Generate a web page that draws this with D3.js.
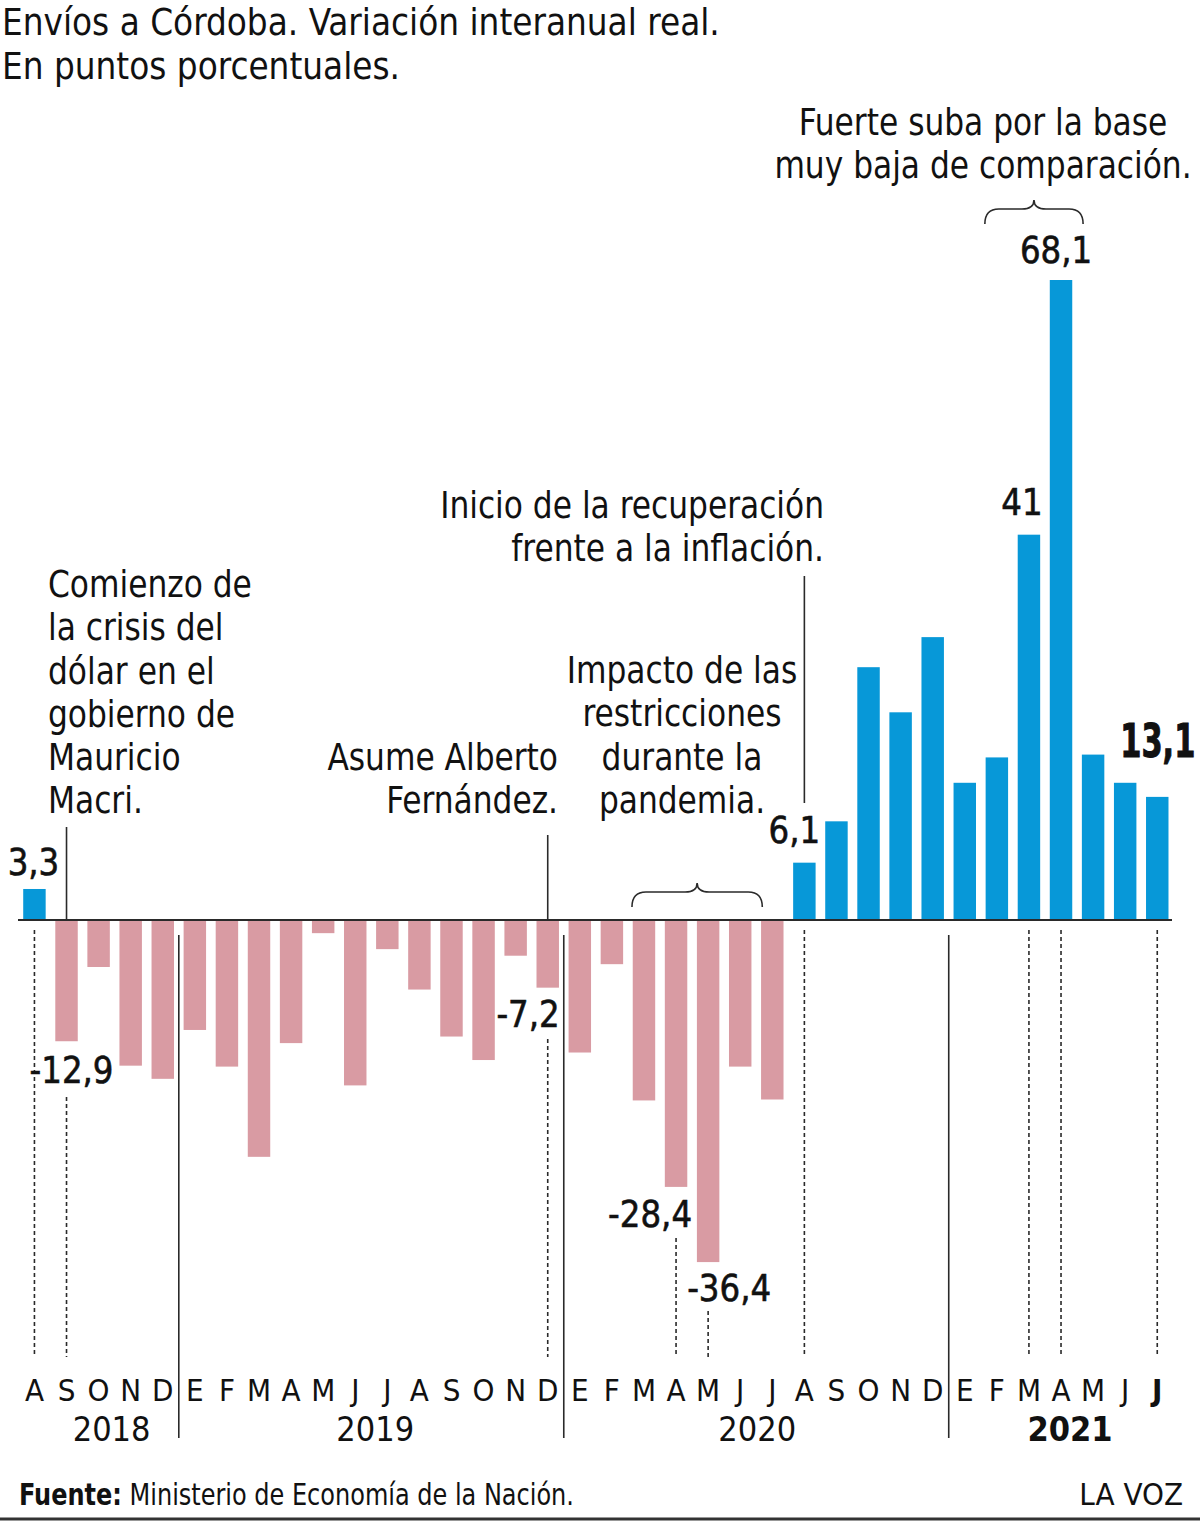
<!DOCTYPE html>
<html>
<head>
<meta charset="utf-8">
<script src="https://cdn.jsdelivr.net/npm/d3@7"></script>
<style>
  body { margin: 0; background: #fff; }
  svg text { font-family: "Liberation Sans Narrow", "DejaVu Sans Condensed", "Roboto", sans-serif; fill: #111; }
</style>
</head>
<body>
<div id="chart"></div>
<script>
// months from Aug 2018 to Jul 2021
const months = ["A","S","O","N","D",
  "E","F","M","A","M","J","J","A","S","O","N","D",
  "E","F","M","A","M","J","J","A","S","O","N","D",
  "E","F","M","A","M","J","J"];
const values = [3.3, -12.9, -5.0, -15.5, -16.9,
  -11.7, -15.6, -25.2, -13.1, -1.4, -17.6, -3.1, -7.4, -12.4, -14.9, -3.8, -7.2,
  -14.1, -4.7, -19.2, -28.4, -36.4, -15.6, -19.1, 6.1, 10.5, 26.9, 22.1, 30.1,
  14.6, 17.3, 41, 68.1, 17.6, 14.6, 13.1];
const years = ["2018", "2019", "2020", "2021"];
const yearStart = [0, 5, 17, 29];
const labeledBars = [0, 1, 16, 20, 21, 24, 31, 32, 35];

const title = ["Envíos a Córdoba. Variación interanual real.", "En puntos porcentuales."];
const notes = [
  { lines: ["Comienzo de", "la crisis del", "dólar en el", "gobierno de", "Mauricio", "Macri."] },
  { lines: ["Asume Alberto", "Fernández."] },
  { lines: ["Impacto de las", "restricciones", "durante la", "pandemia."] },
  { lines: ["Inicio de la recuperación", "frente a la inflación."] },
  { lines: ["Fuerte suba por la base", "muy baja de comparación."] }
];

const W = 1200, H = 1529;
const svg = d3.select("#chart").append("svg")
  .attr("width", W).attr("height", H);

const x = d3.scaleBand()
  .domain(d3.range(months.length))
  .range([18.4, 1173.3])
  .paddingInner(0.3)
  .paddingOuter(0.15);
const cx = i => x(i) + x.bandwidth() / 2;

const y = d3.scaleLinear().domain([0, 68.1]).range([920, 280]);

const blue = "#0798d8", pink = "#d99ba3", ink = "#111", lineCol = "#2a2a2a";
const fmt = v => String(v).replace(".", ",");
// narrow the glyphs a little, the original uses a condensed face
const squeeze = (px, py, s) => `translate(${px},${py}) scale(${s},1)`;

// title
svg.append("g").selectAll("text").data(title).join("text")
  .attr("transform", (d, i) => squeeze(2, 35 + i * 44, 0.96))
  .attr("font-size", 38).text(d => d);

// bars
svg.append("g").selectAll("rect").data(values).join("rect")
  .attr("x", (d, i) => x(i))
  .attr("width", x.bandwidth())
  .attr("y", d => Math.min(y(d), y(0)))
  .attr("height", d => Math.abs(y(d) - y(0)))
  .attr("fill", d => d >= 0 ? blue : pink);

// zero line
svg.append("line")
  .attr("x1", 18).attr("x2", 1172)
  .attr("y1", y(0)).attr("y2", y(0))
  .attr("stroke", lineCol).attr("stroke-width", 2);

// dotted guides under labelled bars
const dotTop = { 0: 930, 1: 1097, 16: 1039, 20: 1238, 21: 1311 };
svg.append("g").selectAll("line").data(labeledBars).join("line")
  .attr("x1", i => cx(i)).attr("x2", i => cx(i))
  .attr("y1", i => dotTop[i] || 930).attr("y2", 1357)
  .attr("stroke", lineCol).attr("stroke-width", 1.6)
  .attr("stroke-dasharray", "4,3");

// year separators
const seps = yearStart.slice(1).map(i => (cx(i - 1) + cx(i)) / 2);
svg.append("g").selectAll("line").data(seps).join("line")
  .attr("x1", d => d).attr("x2", d => d)
  .attr("y1", 935).attr("y2", 1438)
  .attr("stroke", lineCol).attr("stroke-width", 1.6);

// month letters
svg.append("g").selectAll("text").data(months).join("text")
  .attr("x", (d, i) => cx(i)).attr("y", 1401)
  .attr("text-anchor", "middle").attr("font-size", 31)
  .attr("font-weight", (d, i) => i === months.length - 1 ? "bold" : "normal")
  .text(d => d);

// year labels
const yearShift = [13, 4, 1, 9];
svg.append("g").selectAll("text").data(years).join("text")
  .attr("x", (d, k) => {
    const a = yearStart[k], b = k < years.length - 1 ? yearStart[k + 1] - 1 : months.length - 1;
    return (cx(a) + cx(b)) / 2 + yearShift[k];
  })
  .attr("y", 1441).attr("text-anchor", "middle").attr("font-size", 34)
  .attr("font-weight", (d, k) => k === years.length - 1 ? "bold" : "normal")
  .text(d => d);

// value labels
const labelPos = {
  0: { dx: -1, dy: -14, anchor: "middle" },
  1: { dx: 5, dy: 42, anchor: "middle" },
  16: { dx: 12, dy: 39, anchor: "end" },
  20: { dx: -26, dy: 40, anchor: "middle" },
  21: { dx: 21, dy: 39, anchor: "middle" },
  24: { dx: -10, dy: -20, anchor: "middle" },
  31: { dx: -7, dy: -20, anchor: "middle" },
  32: { dx: -5, dy: -17, anchor: "middle" },
  35: { dx: -37, dy: -40, anchor: "start" }
};
svg.append("g").selectAll("text").data(labeledBars).join("text")
  .attr("transform", i => squeeze(cx(i) + labelPos[i].dx, y(values[i]) + labelPos[i].dy, i === 35 ? 0.72 : 0.95))
  .attr("text-anchor", i => labelPos[i].anchor)
  .attr("font-size", i => i === 35 ? 47 : 38)
  .attr("font-weight", i => i === 35 ? "bold" : "normal")
  .attr("stroke", ink).attr("stroke-width", i => i === 35 ? 1 : 0.6)
  .text(i => fmt(values[i]));

// annotation texts
const notePos = [
  { x: 48, y: 597, anchor: "start" },
  { x: 558, y: 770, anchor: "end" },
  { x: 682, y: 683, anchor: "middle" },
  { x: 824, y: 518, anchor: "end" },
  { x: 983, y: 135, anchor: "middle" }
];
notes.forEach((n, k) => {
  const t = svg.append("text")
    .attr("transform", squeeze(notePos[k].x, notePos[k].y, 0.94))
    .attr("text-anchor", notePos[k].anchor).attr("font-size", 37);
  t.selectAll("tspan").data(n.lines).join("tspan")
    .attr("x", 0).attr("dy", (d, i) => i === 0 ? 0 : 43.3)
    .text(d => d);
});

// leader lines for annotations
const leaders = [
  { i: 1, y1: 827, y2: 919 },
  { i: 16, y1: 835, y2: 919 },
  { i: 24, y1: 576, y2: 803 }
];
svg.append("g").selectAll("line").data(leaders).join("line")
  .attr("x1", d => cx(d.i)).attr("x2", d => cx(d.i))
  .attr("y1", d => d.y1).attr("y2", d => d.y2)
  .attr("stroke", lineCol).attr("stroke-width", 1.6);

// braces
function bracePath(x0, x1, yTop, yBot) {
  const xm = (x0 + x1) / 2, ym = yTop + 9;
  return `M${x0},${yBot} Q${x0},${ym} ${x0 + 14},${ym} L${xm - 12},${ym} ` +
    `Q${xm},${ym} ${xm},${yTop} Q${xm},${ym} ${xm + 12},${ym} ` +
    `L${x1 - 14},${ym} Q${x1},${ym} ${x1},${yBot}`;
}
const braces = [
  { from: 19, to: 23, yTop: 883, yBot: 907 },
  { from: 30, to: 33, yTop: 200, yBot: 224 }
];
svg.append("g").selectAll("path").data(braces).join("path")
  .attr("d", d => bracePath(cx(d.from) - 12, cx(d.to) - 10, d.yTop, d.yBot))
  .attr("fill", "none").attr("stroke", lineCol).attr("stroke-width", 1.6);

// footer
const foot = svg.append("text").attr("transform", squeeze(19, 1505, 0.89)).attr("font-size", 30);
foot.append("tspan").attr("font-weight", "bold").text("Fuente:");
foot.append("tspan").text(" Ministerio de Economía de la Nación.");
svg.append("text").attr("x", 1183).attr("y", 1505)
  .attr("text-anchor", "end").attr("font-size", 31).text("LA VOZ");
svg.append("line").attr("x1", 0).attr("x2", W)
  .attr("y1", 1519).attr("y2", 1519)
  .attr("stroke", "#333").attr("stroke-width", 3);
</script>
</body>
</html>
